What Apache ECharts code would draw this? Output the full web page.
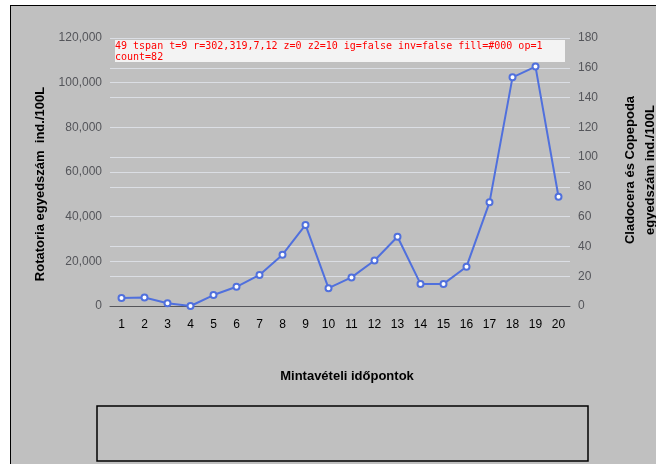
<!DOCTYPE html>
<html>
<head>
<meta charset="utf-8">
<script src="https://cdn.jsdelivr.net/npm/echarts@6/dist/echarts.min.js"></script>
<style>
html,body{margin:0;padding:0;background:#fff;}
#frame{position:absolute;left:10px;top:5px;width:700px;height:500px;background:#C0C0C0;border:1.5px solid #000;box-sizing:border-box;}
#chart{position:absolute;left:0;top:0;width:656px;height:464px;}
#dbg{position:absolute;left:115px;top:40px;width:450px;font:10px monospace;white-space:pre-wrap;color:red;background:rgba(255,255,255,0.8);}
</style>
</head>
<body>
<div id="frame"></div>
<div id="chart"></div>
<div id="dbg"></div>
<script>
const categories = ['1','2','3','4','5','6','7','8','9','10','11','12','13','14','15','16','17','18','19','20'];
const rotatoria = [3600, 3800, 1200, 0, 4900, 8600, 13900, 23000, 36300, 8000, 12800, 20400, 31000, 9900, 9900, 17600, 46400, 102400, 107200, 48900];
const cladocera = [0, 19, 12, 0, 0, 0, 0, 12, 12, 0, 0, 12, 0, 0, 0, 0, 0, 0, 0, 0];
const copepoda = [161, 21, 60, 96, 16, 21, 14, 10, 13, 49, 16, 25, 25, 21, 31, 16, 31, 41, 16, 0];
const seriesNames = ['Összes Rotatoria i./100 L', 'Összes Cladocera i./100 L', 'Összes Copepoda i./100 L'];
const FONT = 'Liberation Sans, Arial, sans-serif';
const chart = echarts.init(document.getElementById('chart'), null, {renderer: 'canvas'});
chart.setOption({
  backgroundColor: 'transparent', animation: false,
  textStyle: {fontFamily: FONT, color: '#000'},
  grid: {left: 110, right: 86, top: 38, bottom: 158},
  xAxis: {type: 'category', data: categories,
    axisLabel: {fontFamily: FONT, fontSize: 12, color: '#000', margin: 13, interval: 0, hideOverlap: false}},
  yAxis: [{type: 'value', min: 0, max: 120000, interval: 20000}, {type: 'value', position: 'right', min: 0, max: 180, interval: 20}],
  graphic: [
    {type: 'text', x: 40, y: 184, rotation: Math.PI / 2, silent: true,
     style: {text: 'Rotatoria egyedszám  ind./100L', fontFamily: FONT, fontSize: 13, fontWeight: 'bold', fill: '#000', align: 'center', verticalAlign: 'middle'}},
    {type: 'text', x: 640, y: 170, rotation: Math.PI / 2, silent: true,
     style: {text: 'Cladocera és Copepoda\negyedszám ind./100L', fontFamily: FONT, fontSize: 13, fontWeight: 'bold', lineHeight: 20, fill: '#000', align: 'center', verticalAlign: 'middle'}},
    {type: 'text', x: 347, y: 376, silent: true,
     style: {text: 'Mintavételi időpontok', fontFamily: FONT, fontSize: 13, fontWeight: 'bold', fill: '#000', align: 'center', verticalAlign: 'middle'}},
    {type: 'rect', silent: true, shape: {x: 97, y: 406, width: 491, height: 55}, style: {fill: 'none', stroke: '#000', lineWidth: 1.5}}
  ],
  series: [{name: seriesNames[0], type: 'line', data: rotatoria}]
});
const out = [];
const list = chart.getZr().storage.getDisplayList(true);
list.forEach((el, i) => {
  const r = el.getBoundingRect().clone(); r.applyTransform(el.getComputedTransform());
  if (r.contain(305, 325) || (el.style && el.style.text === '9')) {
    out.push(i + ' ' + el.type + ' t=' + (el.style && el.style.text) + ' r=' + [r.x, r.y, r.width, r.height].map(Math.round) + ' z=' + el.z + ' z2=' + el.z2 + ' ig=' + el.ignore + ' inv=' + el.invisible + ' fill=' + (el.style && el.style.fill) + ' op=' + (el.style && el.style.opacity));
  }
});
out.push('count=' + list.length);
document.getElementById('dbg').textContent = out.join('\n');
</script>
</body>
</html>
